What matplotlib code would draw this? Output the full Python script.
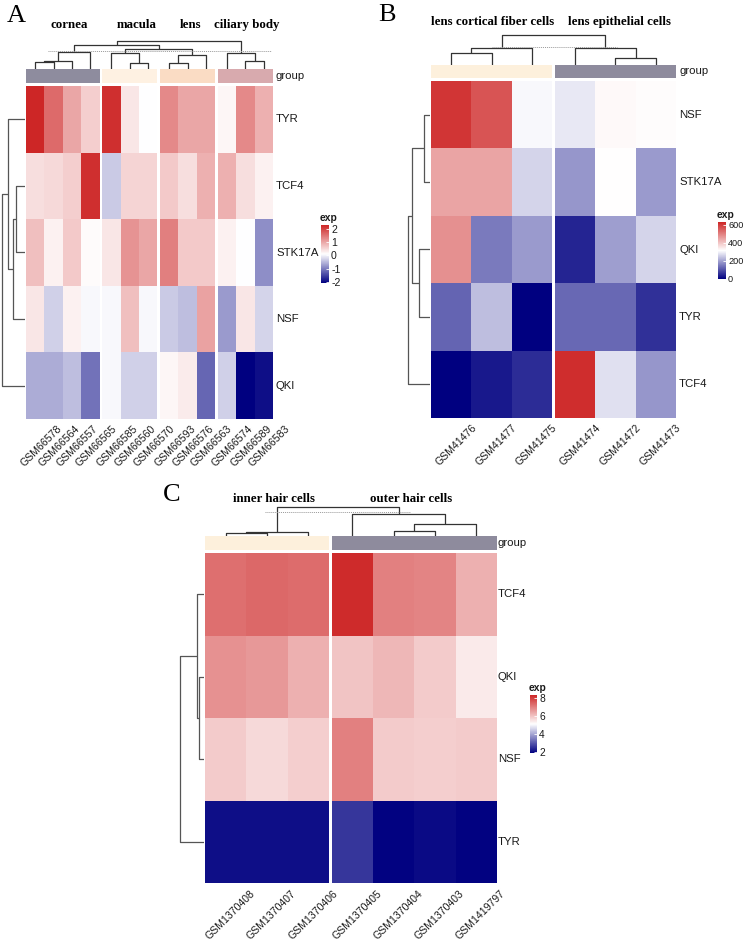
import numpy as np
import matplotlib.pyplot as plt
from matplotlib.colors import LinearSegmentedColormap, Normalize
from matplotlib.cm import ScalarMappable
import matplotlib.transforms as mtransforms

# ---- data ----
# Panel A
a_genes = ['TYR', 'TCF4', 'STK17A', 'NSF', 'QKI']
a_samples = ['GSM66578', 'GSM66564', 'GSM66557', 'GSM66565', 'GSM66585', 'GSM66560', 'GSM66570',
             'GSM66593', 'GSM66576', 'GSM66563', 'GSM66574', 'GSM66589', 'GSM66583']
a_groups = ['cornea', 'macula', 'lens', 'ciliary body']
a_group_sizes = [4, 3, 3, 3]
a_group_colors = ['#8E8C9E', '#FEF1E2', '#FADCC4', '#D8AAAE']
a_values = [
    [2.3, 1.6, 1.0, 0.6, 2.2, 0.35, 0.1, 1.3, 1.0, 1.0, 0.2, 1.3, 0.9],
    [0.45, 0.5, 0.6, 2.2, -0.35, 0.55, 0.55, 0.65, 0.45, 0.9, 0.9, 0.45, 0.25],
    [0.75, 0.25, 0.65, 0.15, 0.35, 1.2, 1.0, 1.4, 0.65, 0.65, 0.25, 0.1, -0.85],
    [0.35, -0.3, 0.25, 0.05, 0.05, 0.75, 0.05, -0.35, -0.45, 1.05, -0.75, 0.35, -0.25],
    [-0.6, -0.6, -0.45, -1.1, 0.05, -0.3, -0.3, 0.2, 0.3, -1.2, -0.3, -2.08, -1.95],
]
a_range = (-2.08, 2.3)
a_ticks = [-2, -1, 0, 1, 2]
# merges: (child, child, height)  leaves 0..n-1, new nodes numbered from n
a_col_merges = [(0, 1, 7.3), (13, 2, 8.0), (14, 3, 17.0), (5, 6, 5.7), (4, 16, 15.7),
                (7, 8, 6.3), (18, 9, 13.7), (17, 19, 20.0), (15, 20, 23.7),
                (11, 12, 8.3), (10, 22, 16.3), (21, 23, 28.0)]
a_row_merges = [(1, 2, 9.3), (5, 3, 11.7), (0, 6, 16.7), (7, 4, 23.3)]

# Panel B
b_genes = ['NSF', 'STK17A', 'QKI', 'TYR', 'TCF4']
b_samples = ['GSM41476', 'GSM41477', 'GSM41475', 'GSM41474', 'GSM41472', 'GSM41473']
b_groups = ['lens cortical fiber cells', 'lens epithelial cells']
b_group_sizes = [3, 3]
b_group_colors = ['#FDF0DC', '#8E8B9D']
b_values = [
    [605, 560, 305, 285, 322, 318],
    [445, 445, 262, 185, 314, 190],
    [475, 150, 190, 45, 195, 262],
    [125, 235, 0, 130, 130, 60],
    [0, 30, 55, 618, 275, 185],
]
b_range = (0, 628)
b_ticks = [0, 200, 400, 600]
b_col_merges = [(0, 1, 12.3), (6, 2, 16.7), (4, 5, 6.7), (3, 8, 17.0), (7, 9, 30.0)]
b_row_merges = [(0, 1, 5.7), (2, 3, 11.3), (5, 6, 18.0), (7, 4, 22.0)]

# Panel C
c_genes = ['TCF4', 'QKI', 'NSF', 'TYR']
c_samples = ['GSM1370408', 'GSM1370407', 'GSM1370406', 'GSM1370405', 'GSM1370404',
             'GSM1370403', 'GSM1419797']
c_groups = ['inner hair cells', 'outer hair cells']
c_group_sizes = [3, 4]
c_group_colors = ['#FDF0DC', '#8E8B9D']
c_values = [
    [7.25, 7.35, 7.3, 8.25, 7.0, 6.95, 6.3],
    [6.75, 6.65, 6.3, 6.0, 6.2, 5.9, 5.45],
    [5.9, 5.7, 5.85, 7.0, 5.9, 5.85, 5.9],
    [2.1, 2.1, 2.1, 2.6, 1.95, 2.05, 1.95],
]
c_range = (1.9, 8.35)
c_ticks = [2, 4, 6, 8]
c_col_merges = [(0, 1, 3.3), (7, 2, 4.3), (4, 5, 5.3), (9, 6, 11.7), (3, 10, 21.7), (8, 11, 28.7)]
c_row_merges = [(1, 2, 5.0), (0, 4, 6.7), (5, 3, 24.3)]

plt.rcParams['axes.unicode_minus'] = False
SANS = 'Liberation Sans'
SERIF = 'Liberation Serif'
TXT = '#1a1a1a'

W, H = 744, 947
fig = plt.figure(figsize=(W / 100, H / 100), dpi=100)
heat_cmap = LinearSegmentedColormap.from_list('navy_white_firebrick', ['#000080', '#FFFFFF', '#CD2626'])


def px_axes(x0, y0, x1, y1):
    ax = fig.add_axes([x0 / W, 1 - y1 / H, (x1 - x0) / W, (y1 - y0) / H])
    ax.set_axis_off()
    return ax


def ftext(x, y, s, **kw):
    fig.text(x / W, 1 - y / H, s, **kw)


def col_edges(sizes, gap):
    lefts = []
    pos = 0.0
    for size in sizes:
        for _ in range(size):
            lefts.append(pos)
            pos += 1
        pos += gap
    return np.array(lefts), pos - gap


def draw_dendro(ax, leaf_pos, merges, top=True, color='#333333', lw=0.9):
    pos = list(leaf_pos)
    hgt = [0.0] * len(leaf_pos)
    for a, b, h in merges:
        xs = [pos[a], pos[a], pos[b], pos[b]]
        ys = [hgt[a], h, h, hgt[b]]
        if top:
            ax.plot(xs, ys, color=color, lw=lw, solid_capstyle='butt')
        else:
            ax.plot(ys, xs, color=color, lw=lw, solid_capstyle='butt')
        pos.append((pos[a] + pos[b]) / 2)
        hgt.append(h)


def panel(values, genes, samples, sizes, colors, gap, vrange, ticks, col_merges, row_merges,
          heat_box, bar_y, top_y0, left_x0, cbar_box, label_x, lab_dx, tick_size):
    x0, y0, x1, y1 = heat_box
    vals = np.array(values, dtype=float)
    nr, nc = vals.shape
    lefts, total = col_edges(sizes, gap)
    norm = Normalize(*vrange)

    ax = px_axes(x0, y0, x1, y1)
    start = 0
    for size in sizes:
        xe = np.append(lefts[start:start + size], lefts[start + size - 1] + 1)
        ax.pcolormesh(xe, np.arange(nr + 1), vals[:, start:start + size], cmap=heat_cmap,
                      norm=norm, shading='flat', linewidth=0, antialiased=False)
        start += size
    ax.set_xlim(0, total)
    ax.set_ylim(nr, 0)
    centers = lefts + 0.5

    # column labels, rotated
    off = mtransforms.ScaledTranslation(lab_dx / 100, -0.05, fig.dpi_scale_trans)
    for cx, s in zip(centers, samples):
        ax.text(cx, nr, s, rotation=45, ha='right', va='top', rotation_mode='anchor',
                fontsize=7.6, family=SANS, color=TXT, transform=ax.transData + off)
    # row labels
    row_px = (y1 - y0) / nr
    for i, g in enumerate(genes):
        ftext(label_x, y0 + (i + 0.5) * row_px, g, fontsize=8.2, family=SANS,
              va='center', ha='left', color=TXT)

    # annotation bar
    bx = px_axes(x0, bar_y[0], x1, bar_y[1])
    start = 0
    for size, col in zip(sizes, colors):
        bx.barh([0], [lefts[start + size - 1] + 1 - lefts[start]], left=lefts[start],
                height=1, color=col, linewidth=0)
        start += size
    bx.set_xlim(0, total)
    bx.set_ylim(-0.5, 0.5)
    ftext(label_x, (bar_y[0] + bar_y[1]) / 2, 'group', fontsize=8.2, family=SANS,
          va='center', ha='left', color=TXT)

    # top dendrogram
    tx = px_axes(x0, top_y0, x1, bar_y[0])
    draw_dendro(tx, centers, col_merges, top=True)
    tx.set_xlim(0, total)
    tx.set_ylim(0, bar_y[0] - top_y0)

    # left dendrogram
    lx = px_axes(left_x0, y0, x0 - 1, y1)
    draw_dendro(lx, np.arange(nr) + 0.5, row_merges, top=False, color='#555555')
    lx.set_ylim(nr, 0)
    lx.set_xlim(x0 - 1 - left_x0, 0)

    # colour key
    cx0, cy0, cx1, cy1 = cbar_box
    cax = fig.add_axes([cx0 / W, 1 - cy1 / H, (cx1 - cx0) / W, (cy1 - cy0) / H])
    cb = fig.colorbar(ScalarMappable(norm=norm, cmap=heat_cmap), cax=cax, ticks=ticks)
    cb.outline.set_visible(False)
    cax.tick_params(length=2, width=0.6, color='white', direction='in', labelsize=tick_size,
                    pad=1.5, labelcolor=TXT)
    for t in cax.get_yticklabels():
        t.set_family(SANS)
    ftext(cx0 - 1, cy0 - 2, 'exp', fontsize=7.4, family=SANS, weight='bold',
          ha='left', va='bottom', color=TXT)
    return tx


# ---- panel A ----
tA = panel(a_values, a_genes, a_samples, a_group_sizes, a_group_colors, 0.14, a_range, a_ticks,
           a_col_merges, a_row_merges, (26, 86, 273, 419), (69, 83), 38, 0,
           (321, 225, 329, 283), 276, 21, 7.6)
tA.hlines(18.3, 1.2, 13.3, colors='#999999', lw=0.7, linestyles=(0, (1, 1)))
for name, x in zip(a_groups, [69.5, 136.7, 190.8, 247]):
    ftext(x, 25, name, fontsize=9.3, family=SERIF, weight='bold', ha='center', va='center')
ftext(16, 16, 'A', fontsize=19, family=SERIF, ha='center', va='center')

# ---- panel B ----
tB = panel(b_values, b_genes, b_samples, b_group_sizes, b_group_colors, 0.07, b_range, b_ticks,
           b_col_merges, b_row_merges, (431, 81, 676, 418), (65, 78), 30, 405,
           (718, 222, 726, 279), 679, 20, 6.6)
tB.hlines(18.3, 1.5, 4.6, colors='#999999', lw=0.7, linestyles=(0, (1, 1)))
for name, x in zip(b_groups, [492.3, 619]):
    ftext(x, 22, name, fontsize=9.3, family=SERIF, weight='bold', ha='center', va='center')
ftext(387, 15, 'B', fontsize=19, family=SERIF, ha='center', va='center')

# ---- panel C ----
tC = panel(c_values, c_genes, c_samples, c_group_sizes, c_group_colors, 0.06, c_range, c_ticks,
           c_col_merges, c_row_merges, (205, 553, 497, 883), (536, 550), 502, 178,
           (530, 695, 537, 753), 498, 24, 7.4)
tC.hlines(23.7, 1.45, 4.95, colors='#999999', lw=0.7, linestyles=(0, (1, 1)))
for name, x in zip(c_groups, [274.3, 411]):
    ftext(x, 499, name, fontsize=9.3, family=SERIF, weight='bold', ha='center', va='center')
ftext(172, 495, 'C', fontsize=19, family=SERIF, ha='center', va='center')

fig.savefig('out.png', dpi=100, facecolor='white')
